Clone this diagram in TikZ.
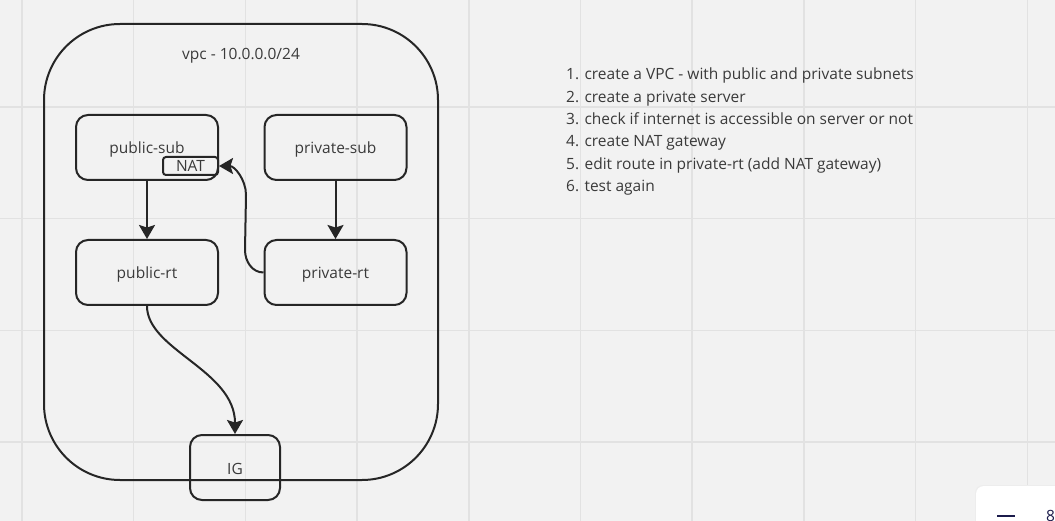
\documentclass[tikz,border=0pt]{standalone}
\usepackage{fontspec}
\setmainfont{Open Sans}
\usepackage{xcolor}
\usepackage{tikz}
\usetikzlibrary{positioning,calc,arrows.meta}

\definecolor{bgcol}{HTML}{F2F2F2}
\definecolor{gridcol}{HTML}{E2E2E2}
\definecolor{inkcol}{HTML}{262626}
\definecolor{txtcol}{HTML}{3A3A3A}
\definecolor{navycol}{HTML}{1B1B4B}

\tikzset{
    boxnode/.style={draw=inkcol, line width=2pt, rounded corners=12pt, minimum width=142pt, minimum height=65pt,
        inner sep=0pt, text=txtcol, font=\fontsize{15.5}{19}\selectfont, text height=13pt, text depth=0pt},
    natnode/.style={draw=inkcol, line width=2pt, rounded corners=3pt, minimum width=55pt, minimum height=18pt,
        inner sep=0pt, text=txtcol, font=\fontsize{15.5}{19}\selectfont, text height=12pt, text depth=0pt},
    arr/.style={draw=inkcol, line width=2pt, -{Stealth[length=14pt,width=16pt,inset=2.5pt]}},
    listtext/.style={anchor=base west, inner sep=0pt, text=txtcol, font=\fontsize{15.5}{19}\selectfont},
}

\begin{document}
\begin{tikzpicture}[x=1pt, y=-1pt]
    \useasboundingbox (0,0) rectangle (1055,521);
    \fill[bgcol] (0,0) rectangle (1055,521);
    % grid
    \foreach \gx in {0,...,9}
        \draw[gridcol, line width=1.5pt] ({22+111.7*\gx},0) -- ({22+111.7*\gx},521);
    \foreach \gy in {0,...,3}
        \draw[gridcol, line width=1.5pt] (0,{107+111.7*\gy}) -- (1055,{107+111.7*\gy});

    % vpc
    \node[draw=inkcol, line width=2pt, rounded corners=76pt, minimum width=394pt, minimum height=456pt,
        inner sep=0pt] (vpc) at (241,252) {};
    \node[anchor=base, inner sep=0pt, text=txtcol, font=\fontsize{15.5}{19}\selectfont] (vpctitle) at (241,60) {vpc - 10.0.0.0/24};

    % subnets and route tables
    \node[boxnode] (pubsub) at (147,147.5) {public-sub};
    \node[boxnode] (privsub) at (335.5,147.5) {private-sub};
    \node[boxnode] (pubrt) at (147,272.5) {public-rt};
    \node[boxnode] (privrt) at (335.5,272.5) {private-rt};
    \node[natnode] (nat) at (190.5,166) {NAT};
    \node[boxnode, minimum width=90pt] (ig) at (235,467.5) {IG};

    \draw[arr] (pubsub) -- (pubrt);
    \draw[arr] (privsub) -- (privrt);
    \draw[arr] (privrt.west) to[out=180, in=-90] (245,250) -- (246,195) to[out=90, in=0] (nat.east);
    \draw[arr] (pubrt.south) .. controls (147,350) and (235,370) .. (ig.north);

    % steps
    \foreach \t [count=\i] in {1. create a VPC - with public and private subnets,
        2. create a private server,
        3. check if internet is accessible on server or not,
        4. create NAT gateway,
        5. edit route in private-rt (add NAT gateway),
        6. test again}
        \node[listtext] (step\i) at (566,{80+22.3*(\i-1)}) {\t};

    % zoom panel
    \fill[black!7, rounded corners=8pt] (975,485) rectangle (1075,540);
    \fill[white, rounded corners=8pt] (976,486) rectangle (1075,540);
    \draw[navycol, line width=2.5pt] (997,516) -- (1015,516);
    \node[anchor=base west, inner sep=0pt, text=navycol, font=\fontsize{15.5}{19}\selectfont] (zoomval) at (1046,521) {8};
\end{tikzpicture}
\end{document}
